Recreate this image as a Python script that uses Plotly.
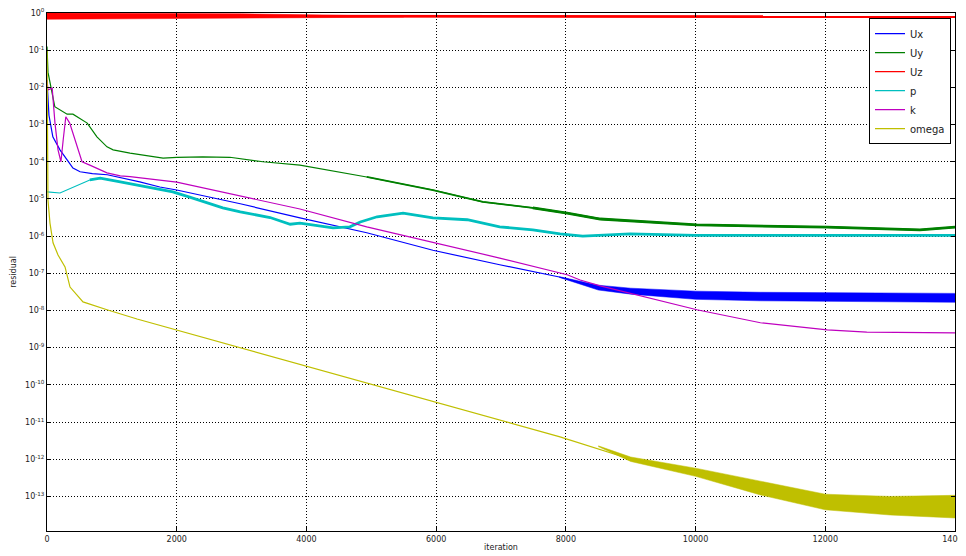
import numpy as np
import plotly.graph_objects as go

# ---------------- data (iteration, log10(residual)) ----------------
ux_iter = [0, 15, 30, 90, 200, 310, 400, 510, 700, 930, 1430, 1740, 2000, 2980, 3900, 4930,
           5950, 6980, 7900, 8530, 10000, 12000, 14000]
ux_log = [-1.8, -2.3, -2.75, -3.33, -3.68, -3.95, -4.17, -4.27, -4.32, -4.35, -4.54, -4.68, -4.76,
          -5.13, -5.51, -5.91, -6.38, -6.77, -7.10, -7.38, -7.59, -7.64, -7.66]
ux_noise_iter = [7900, 8500, 9000, 10000, 11000, 12000, 13000, 14000]
ux_noise_hi = [-7.09, -7.32, -7.40, -7.48, -7.51, -7.52, -7.53, -7.54]
ux_noise_lo = [-7.11, -7.45, -7.56, -7.70, -7.74, -7.76, -7.77, -7.78]

uy_iter = [0, 15, 120, 310, 400, 620, 770, 925, 1020, 1280, 1790, 2000, 2400, 2820, 3330, 3900,
           4930, 5950, 6720, 7490, 8020, 8530, 8990, 10020, 12030, 13460, 14000]
uy_log = [-0.9, -1.59, -2.52, -2.72, -2.72, -2.96, -3.33, -3.6, -3.68, -3.77, -3.9, -3.88, -3.87,
          -3.88, -4.0, -4.09, -4.41, -4.76, -5.08, -5.24, -5.38, -5.54, -5.59, -5.70, -5.76, -5.83, -5.76]

uz_iter = [0, 2000, 5000, 14000]
uz_log = [-0.08, -0.08, -0.1, -0.1]
uz_noise_iter = [0, 1000, 2000, 3000, 4000, 5000, 5500]
uz_noise_hi = [0.0, 0.0, 0.0, -0.02, -0.05, -0.08, -0.09]
uz_noise_lo = [-0.17, -0.16, -0.14, -0.13, -0.12, -0.11, -0.11]

p_iter = [0, 200, 660, 820, 1130, 1590, 1940, 2200, 2710, 2980, 3440, 3750, 3900, 4410, 4670,
          4830, 5090, 5490, 5950, 6480, 6980, 7490, 7910, 8260, 8990, 10000, 12000, 14000]
p_log = [-4.81, -4.84, -4.49, -4.44, -4.54, -4.70, -4.81, -4.95, -5.24, -5.35, -5.50, -5.68, -5.65,
         -5.78, -5.75, -5.62, -5.48, -5.38, -5.51, -5.56, -5.75, -5.83, -5.94, -6.0, -5.94, -5.98,
         -5.98, -5.98]

k_iter = [0, 15, 80, 123, 170, 215, 250, 290, 350, 540, 660, 925, 1130, 1280, 2000, 2980, 3900,
          4930, 5950, 6980, 8020, 8220, 8530, 10020, 11000, 12030, 12640, 14000]
k_log = [-1.8, -2.07, -2.02, -2.96, -3.68, -4.0, -3.41, -2.79, -2.96, -4.0, -4.09, -4.30, -4.38,
         -4.40, -4.55, -4.92, -5.27, -5.75, -6.16, -6.59, -7.04, -7.18, -7.34, -7.98, -8.33, -8.52,
         -8.58, -8.60]

omega_iter = [0, 5, 15, 46, 93, 170, 278, 355, 555, 925, 1388, 7910, 9000, 10000, 11000, 12000,
              13000, 14000]
omega_log = [-1.0, -3.0, -5.03, -5.65, -6.18, -6.51, -6.83, -7.37, -7.77, -7.98, -8.23, -11.40,
             -12.0, -12.35, -12.78, -13.15, -13.27, -13.3]
omega_noise_iter = [8500, 9000, 10000, 11000, 12000, 13000, 14000]
omega_noise_hi = [-11.64, -11.94, -12.24, -12.60, -12.94, -13.0, -12.97]
omega_noise_lo = [-11.66, -12.06, -12.46, -12.96, -13.36, -13.5, -13.58]

x_ticks = [0, 2000, 4000, 6000, 8000, 10000, 12000, 14000]
y_tick_exp = list(range(0, -14, -1))
y_tick_text = ["10<sup>%d</sup>" % e for e in y_tick_exp]

# ---------------- styling ----------------
C_UX, C_UY, C_UZ = "#0000ff", "#008000", "#ff0000"
C_P, C_K, C_OM = "#00bfbf", "#bf00bf", "#bfbf00"
FONT = "DejaVu Sans"

fig = go.Figure()


def pw(v):
    return np.power(10.0, np.asarray(v, dtype=float))


def line(x, lg, color, width, name=None, show=False):
    fig.add_trace(go.Scatter(x=x, y=pw(lg), mode="lines", name=name, showlegend=show,
                             line=dict(color=color, width=width), hoverinfo="skip"))


def band(x, lo, hi, color):
    fig.add_trace(go.Scatter(x=x, y=pw(hi), mode="lines", showlegend=False,
                             line=dict(color=color, width=0.5), hoverinfo="skip"))
    fig.add_trace(go.Scatter(x=x, y=pw(lo), mode="lines", showlegend=False, fill="tonexty",
                             fillcolor=color, line=dict(color=color, width=0.5), hoverinfo="skip"))


def subset(xs, ys, start):
    idx = [i for i, v in enumerate(xs) if v >= start]
    return [xs[i] for i in idx], [ys[i] for i in idx]


# Ux
line(ux_iter, ux_log, C_UX, 1.2, "Ux", True)
band(ux_noise_iter, ux_noise_lo, ux_noise_hi, C_UX)
# Uy
line(uy_iter, uy_log, C_UY, 1.2, "Uy", True)
gx, gy = subset(uy_iter, uy_log, 4930)
line(gx, gy, C_UY, 1.8)
gx, gy = subset(uy_iter, uy_log, 7490)
line(gx, gy, C_UY, 2.8)
# Uz
line(uz_iter, uz_log, C_UZ, 1.2, "Uz", True)
line(uz_iter, uz_log, C_UZ, 2.7)
band(uz_noise_iter, uz_noise_lo, uz_noise_hi, C_UZ)
# p
line(p_iter, p_log, C_P, 1.2, "p", True)
cx, cy = subset(p_iter, p_log, 660)
line(cx, cy, C_P, 2.8)
# k
line(k_iter, k_log, C_K, 1.2, "k", True)
# omega
line(omega_iter, omega_log, C_OM, 1.2, "omega", True)
band(omega_noise_iter, omega_noise_lo, omega_noise_hi, C_OM)

axis_common = dict(
    showline=True, linecolor="black", linewidth=1, mirror="allticks",
    ticks="inside", ticklen=4, tickwidth=1, tickcolor="black",
    showgrid=True, gridcolor="#000000", gridwidth=1, griddash="1px,2px",
    zeroline=False, tickfont=dict(family=FONT, size=8, color="#222"),
    ticklabeloverflow="allow",
)

# the page body adds an 8px offset, so the figure is 8px smaller with trimmed margins
fig.update_layout(
    width=958, height=548,
    margin=dict(l=39, r=11, t=5, b=25),
    paper_bgcolor="white", plot_bgcolor="white",
    font=dict(family=FONT, color="#222"),
    xaxis=dict(range=[0, 14000], tickvals=x_ticks, ticktext=[str(v) for v in x_ticks],
               title=dict(text="iteration", font=dict(family=FONT, size=8, color="#222"), standoff=1),
               automargin=False, **axis_common),
    yaxis=dict(type="log", range=[-13.93, 0], tickvals=list(pw(y_tick_exp)), ticktext=y_tick_text,
               title=dict(text="residual", font=dict(family=FONT, size=8, color="#222"), standoff=7),
               automargin=False, **axis_common),
    legend=dict(x=0.9956, y=0.99, xanchor="right", yanchor="top", bgcolor="white",
                bordercolor="black", borderwidth=1, font=dict(family=FONT, size=10, color="#222"),
                traceorder="normal", tracegroupgap=0),
    showlegend=True,
)

fig.write_html("out.html")
